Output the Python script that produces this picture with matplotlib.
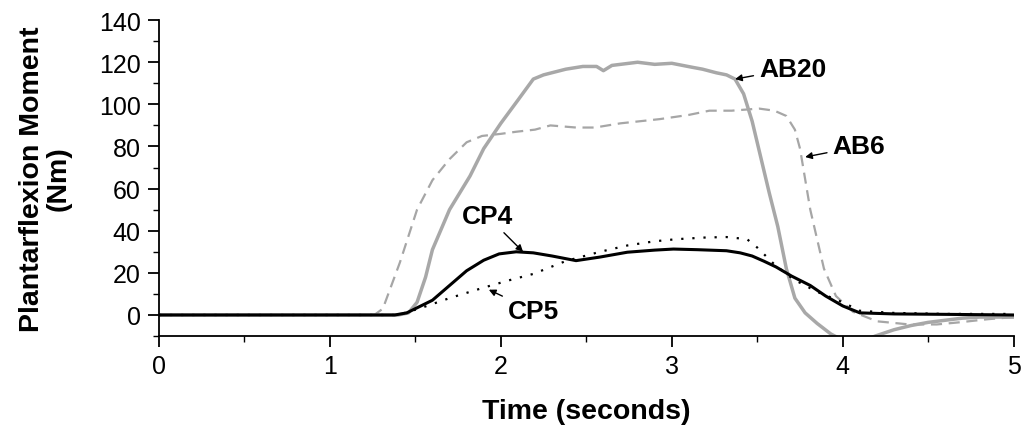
import matplotlib.pyplot as plt
from matplotlib.ticker import MultipleLocator

plt.rcParams['font.family'] = ['Liberation Sans', 'DejaVu Sans']

# AB20 - solid grey
ab20_t = [0, 1.40, 1.46, 1.51, 1.56, 1.60, 1.70, 1.82, 1.90, 2.00, 2.10, 2.19, 2.25, 2.38, 2.48,
          2.56, 2.60, 2.65, 2.80, 2.90, 3.00, 3.12, 3.18, 3.26, 3.32, 3.37, 3.42, 3.47, 3.52,
          3.57, 3.62, 3.67, 3.72, 3.78, 3.85, 3.93, 4.00, 4.10, 4.19, 4.30, 4.40, 4.50,
          4.60, 4.70, 4.80, 5.00]
ab20_v = [0, 0, 1, 6, 18, 31, 50, 66, 79, 91, 102, 112, 114, 116.7, 118,
          118, 116, 118.5, 120, 119, 119.5, 117.6, 116.7, 115, 114, 112, 105, 92, 75,
          58, 42, 22, 8, 1, -4, -9, -12, -13, -10, -7, -5, -3.5,
          -2.5, -1.5, -1, -1]

# AB6 - dashed grey
ab6_t = [0, 1.26, 1.31, 1.41, 1.51, 1.60, 1.70, 1.80, 1.89, 2.00, 2.09, 2.20, 2.29, 2.44,
         2.55, 2.70, 2.93, 3.10, 3.22, 3.35, 3.51, 3.60, 3.67, 3.72, 3.75, 3.81, 3.89,
         3.96, 4.06, 4.20, 4.39, 4.55, 4.68, 4.85, 5.00]
ab6_v = [0, 0, 3, 25, 50, 64, 74, 82, 85, 86, 87, 88, 90, 89,
         89, 91, 93, 95, 97, 97, 98, 97, 94.5, 88, 79, 50, 22,
         9, 1.5, -3, -4.5, -4.5, -3.5, -2, -1]

# CP4 - solid black
cp4_t = [0, 1.38, 1.45, 1.50, 1.60, 1.70, 1.80, 1.90, 1.99, 2.09, 2.19, 2.30, 2.44,
         2.58, 2.74, 2.90, 3.01, 3.15, 3.32, 3.40, 3.47, 3.54, 3.61, 3.70, 3.81,
         3.90, 4.00, 4.10, 4.30, 4.60, 5.00]
cp4_v = [0, 0, 1, 3, 7, 14, 21, 26, 29, 30, 29.5, 28, 25.8,
         27.5, 29.8, 30.8, 31.3, 31, 30.5, 29.5, 28, 25.5, 22.8, 18.5, 14,
         9, 4.3, 1, 0.5, 0.3, 0]

# CP5 - dotted black
cp5_t = [0, 1.40, 1.48, 1.55, 1.70, 1.90, 2.05, 2.19, 2.38, 2.58, 2.74, 2.90, 3.03,
         3.20, 3.32, 3.44, 3.50, 3.60, 3.71, 3.85, 4.00, 4.10, 4.29, 4.60, 5.00]
cp5_v = [0, 0, 2, 3.8, 8, 13, 16.5, 19.5, 25.6, 30, 33, 35, 36,
         36.8, 37, 36, 32, 24, 17, 11, 6, 2, 1, 0.5, 0.5]

# annotations: label, text position, arrow tip
ann_labels = ['AB20', 'AB6', 'CP4', 'CP5']
ann_text_xy = [(3.51, 117), (3.94, 80), (1.92, 47), (2.19, 2)]
ann_tip_xy = [(3.37, 112), (3.78, 75), (2.13, 30), (1.93, 12)]

fig = plt.figure(figsize=(10.25, 4.31), dpi=100)
ax = fig.add_axes([0.155, 0.218, 0.834, 0.733])

ax.plot(ab6_t, ab6_v, color='#a6a6a6', lw=1.6, linestyle=(0, (5, 3)))
ax.plot(ab20_t, ab20_v, color='#a8a8a8', lw=2.5)
ax.plot(cp5_t, cp5_v, color='black', lw=1.6, linestyle=(0, (1, 4)))
ax.plot(cp4_t, cp4_v, color='black', lw=2.2)

for lab, txy, tip in zip(ann_labels, ann_text_xy, ann_tip_xy):
    ha = 'left' if lab.startswith('AB') else 'center'
    ax.annotate(lab, xy=tip, xytext=txy, fontsize=19, fontweight='bold',
                ha=ha, va='center',
                arrowprops=dict(arrowstyle='-|>', color='black', lw=1.0,
                                mutation_scale=10, shrinkA=2, shrinkB=0))

ax.set_xlim(0, 5)
ax.set_ylim(-10, 140)
ax.xaxis.set_major_locator(MultipleLocator(1))
ax.xaxis.set_minor_locator(MultipleLocator(0.5))
ax.yaxis.set_major_locator(MultipleLocator(20))
ax.yaxis.set_minor_locator(MultipleLocator(10))
ax.spines['top'].set_visible(False)
ax.spines['right'].set_visible(False)
ax.spines['left'].set_linewidth(1.3)
ax.spines['bottom'].set_linewidth(1.3)
ax.tick_params(which='major', direction='out', length=8, width=1.3, labelsize=18, pad=5)
ax.tick_params(which='minor', direction='out', length=4, width=1.0)

ax.set_xlabel('Time (seconds)', fontsize=20.5, fontweight='bold', labelpad=14)
ax.set_ylabel('Plantarflexion Moment\n(Nm)', fontsize=20.5, fontweight='bold', labelpad=20,
              linespacing=1.0)

fig.savefig('out.png', dpi=100)
